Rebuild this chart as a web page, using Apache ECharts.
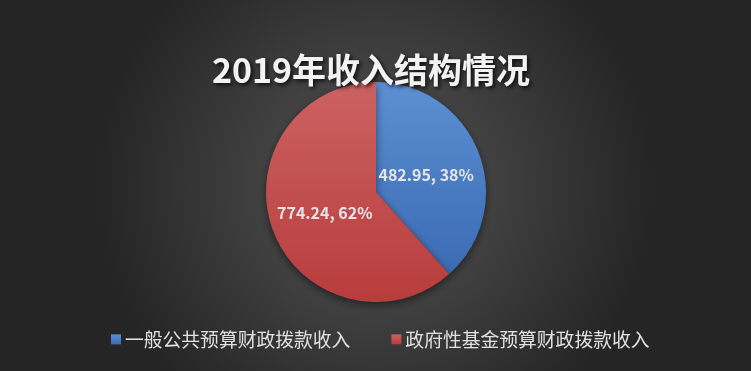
<!DOCTYPE html>
<html><head><meta charset="utf-8">
<script src="https://cdn.jsdelivr.net/npm/echarts@6/dist/echarts.min.js"></script>
<style>html,body{margin:0;padding:0;background:#2a2a2a}#c{width:751px;height:371px}</style>
</head><body><div id="c"></div>
<script>
const titleText = '2019年收入结构情况';
const categories = ['一般公共预算财政拨款收入', '政府性基金预算财政拨款收入'];
const values = [482.95, 774.24];
const colorsTop = ['#5d8fd3', '#cc6262'];
const colorsBottom = ['#3a6bb3', '#b83c3c'];

const total = values.reduce((a, b) => a + b, 0);
const labelOffsets = [[-4, 4], [3, 0]];
const chart = echarts.init(document.getElementById('c'));
chart.setOption({
  backgroundColor: {
    type: 'radial', x: 0.5, y: 0.5, r: 0.75,
    colorStops: [{offset: 0, color: '#555555'}, {offset: 1, color: '#252525'}]
  },
  title: {
    text: titleText, left: 366, top: 48, textAlign: 'center',
    textStyle: {
      color: '#f2f2f2', fontSize: 34, fontWeight: 'bold',
      fontFamily: '"Noto Sans CJK SC", sans-serif',
      textShadowColor: 'rgba(0,0,0,0.8)', textShadowBlur: 4, textShadowOffsetX: 2, textShadowOffsetY: 2
    }
  },
  legend: {
    top: 330, left: 111, itemWidth: 10, itemHeight: 10, itemGap: 41,
    icon: 'rect', padding: 0,
    textStyle: {color: '#e0e0e0', fontSize: 18.8, fontFamily: '"Noto Sans CJK SC", sans-serif', padding: [0,0,0,-1]},
    data: categories
  },
  series: [{
    type: 'pie', center: [376, 192], radius: 110, startAngle: 90, clockwise: true,
    label: {
      position: 'inside', color: '#e6e6e6', fontSize: 16, fontWeight: 'bold',
      fontFamily: '"Noto Sans CJK SC", sans-serif',
      formatter: p => p.value.toFixed(2) + ', ' + Math.round(p.value / total * 100) + '%'
    },
    labelLine: {show: false},
    itemStyle: {shadowBlur: 8, shadowColor: 'rgba(0,0,0,0.5)', shadowOffsetY: 3},
    emphasis: {disabled: true},
    data: categories.map((n, i) => ({
      name: n, value: values[i],
      label: {offset: labelOffsets[i]},
      itemStyle: {color: new echarts.graphic.LinearGradient(0, 0, 0, 1, [
        {offset: 0, color: colorsTop[i]}, {offset: 1, color: colorsBottom[i]}])}
    }))
  }]
});
</script></body></html>
